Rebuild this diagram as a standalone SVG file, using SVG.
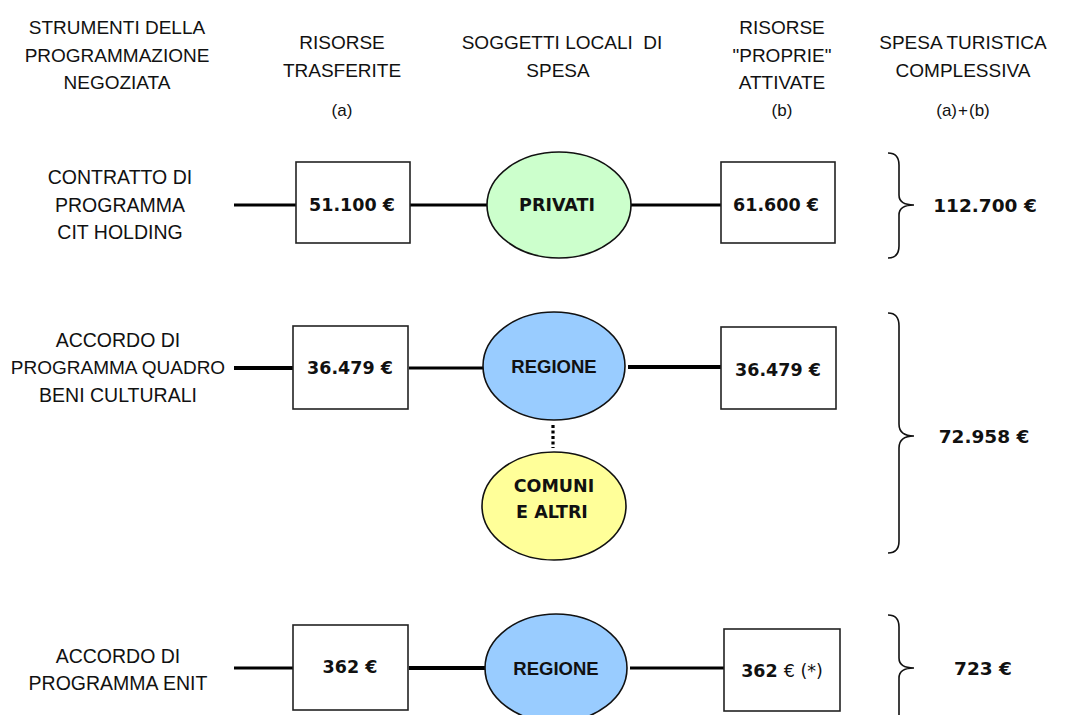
<svg xmlns="http://www.w3.org/2000/svg" width="1076" height="715" viewBox="0 0 1076 715">
  <style>
    .hd { font-family: "Liberation Sans", Arial, sans-serif; font-size: 19px; fill: #111; text-anchor: middle; }
    .sm { font-family: "Liberation Sans", Arial, sans-serif; font-size: 17px; fill: #111; text-anchor: middle; }
    .lbl { font-family: "Liberation Sans", Arial, sans-serif; font-size: 19.5px; fill: #111; text-anchor: middle; }
    .val { font-family: "DejaVu Sans", Verdana, sans-serif; font-size: 17.5px; font-weight: bold; fill: #111; text-anchor: middle; }
    .tot { font-family: "DejaVu Sans", Verdana, sans-serif; font-size: 18.5px; font-weight: bold; fill: #111; text-anchor: middle; }
    .ell { font-family: "Liberation Sans", Arial, sans-serif; font-size: 18.5px; font-weight: bold; fill: #111; text-anchor: middle; }
    .ellw { font-family: "DejaVu Sans", Verdana, sans-serif; font-size: 17.5px; font-weight: bold; fill: #111; text-anchor: middle; }
    .box { fill: #fff; stroke: #222; stroke-width: 1.6; }
    .node { stroke: #111; stroke-width: 1.6; }
    .link { stroke: #000; stroke-width: 3.2; fill: none; }
    .brace { stroke: #111; stroke-width: 1.6; fill: none; }
  </style>

  <!-- column headings -->
  <g id="headings">
    <text class="hd" x="117" y="34">STRUMENTI DELLA</text>
    <text class="hd" x="117" y="62">PROGRAMMAZIONE</text>
    <text class="hd" x="117" y="89">NEGOZIATA</text>

    <text class="hd" x="342" y="49">RISORSE</text>
    <text class="hd" x="342" y="77">TRASFERITE</text>
    <text class="sm" x="342" y="116">(a)</text>

    <text class="hd" x="562" y="49" style="white-space:pre">SOGGETTI LOCALI  DI</text>
    <text class="hd" x="558" y="77">SPESA</text>

    <text class="hd" x="782" y="34">RISORSE</text>
    <text class="hd" x="782" y="62">"PROPRIE"</text>
    <text class="hd" x="782" y="89">ATTIVATE</text>
    <text class="sm" x="782" y="116">(b)</text>

    <text class="hd" x="963" y="49">SPESA TURISTICA</text>
    <text class="hd" x="963" y="77">COMPLESSIVA</text>
    <text class="sm" x="963" y="116">(a)<tspan dx="1">+</tspan><tspan dx="1">(b)</tspan></text>
  </g>

  <!-- connectors -->
  <g id="connectors">
    <line class="link" x1="234" y1="205" x2="296" y2="205"/>
    <line class="link" x1="410" y1="205" x2="487" y2="205"/>
    <line class="link" x1="631" y1="205" x2="721" y2="205"/>

    <line class="link" x1="234" y1="368" x2="293" y2="368" style="stroke-width:4"/>
    <line class="link" x1="409" y1="368" x2="484" y2="368"/>
    <line class="link" x1="628" y1="367" x2="721" y2="367" style="stroke-width:4"/>
    <line class="link" x1="553" y1="425" x2="553" y2="448" style="stroke-dasharray:3 2.5"/>

    <line class="link" x1="234" y1="668" x2="293" y2="668"/>
    <line class="link" x1="409" y1="668" x2="486" y2="668" style="stroke-width:4"/>
    <line class="link" x1="630" y1="668" x2="724" y2="668"/>
  </g>

  <!-- row 1: contratto di programma -->
  <g id="row1-label">
    <text class="lbl" x="120" y="184">CONTRATTO DI</text>
    <text class="lbl" x="120" y="212">PROGRAMMA</text>
    <text class="lbl" x="120" y="239">CIT HOLDING</text>
  </g>
  <g id="row1-transfer">
    <rect class="box" x="296" y="162" width="114" height="81"/>
    <text class="val" x="352" y="211">51.100 €</text>
  </g>
  <g id="row1-privati">
    <ellipse class="node" cx="559" cy="205" rx="72" ry="53" fill="#ccffcc"/>
    <text class="ellw" x="557" y="211">PRIVATI</text>
  </g>
  <g id="row1-own">
    <rect class="box" x="721" y="162" width="114" height="81"/>
    <text class="val" x="776" y="211">61.600 €</text>
  </g>
  <g id="row1-total">
    <path class="brace" d="M888,153 Q899,153 899,165 V195 Q899,205 914,205 Q899,205 899,215 V246 Q899,258 888,258"/>
    <text class="tot" x="985" y="212">112.700 €</text>
  </g>

  <!-- row 2: accordo di programma quadro -->
  <g id="row2-label">
    <text class="lbl" x="118" y="347">ACCORDO DI</text>
    <text class="lbl" x="118" y="374" style="font-size:19px">PROGRAMMA QUADRO</text>
    <text class="lbl" x="118" y="402">BENI CULTURALI</text>
  </g>
  <g id="row2-transfer">
    <rect class="box" x="293" y="326" width="115" height="83"/>
    <text class="val" x="350" y="374">36.479 €</text>
  </g>
  <g id="row2-regione">
    <ellipse class="node" cx="554" cy="366" rx="71" ry="54" fill="#99ccff"/>
    <text class="ell" x="554" y="373">REGIONE</text>
  </g>
  <g id="row2-comuni">
    <ellipse class="node" cx="554" cy="506" rx="72" ry="54" fill="#ffff99"/>
    <text class="ellw" x="554" y="492">COMUNI</text>
    <text class="ellw" x="552" y="518">E ALTRI</text>
  </g>
  <g id="row2-own">
    <rect class="box" x="721" y="327" width="115" height="82"/>
    <text class="val" x="778" y="376">36.479 €</text>
  </g>
  <g id="row2-total">
    <path class="brace" d="M888,313 Q899,313 899,326 V424 Q899,436 914,436 Q899,436 899,448 V541 Q899,553 888,553"/>
    <text class="tot" x="984" y="443">72.958 €</text>
  </g>

  <!-- row 3: accordo di programma ENIT -->
  <g id="row3-label">
    <text class="lbl" x="118" y="663">ACCORDO DI</text>
    <text class="lbl" x="118" y="690">PROGRAMMA ENIT</text>
  </g>
  <g id="row3-transfer">
    <rect class="box" x="293" y="625" width="115" height="85"/>
    <text class="val" x="350" y="673">362 €</text>
  </g>
  <g id="row3-regione">
    <ellipse class="node" cx="556" cy="668" rx="71" ry="54" fill="#99ccff"/>
    <text class="ell" x="556" y="675">REGIONE</text>
  </g>
  <g id="row3-own">
    <rect class="box" x="724" y="629" width="116" height="82"/>
    <text class="val" x="782" y="677">362 <tspan style="font-weight:normal">€ (*)</tspan></text>
  </g>
  <g id="row3-total">
    <path class="brace" d="M888,615 Q899,615 899,627 V658 Q899,668 914,668 Q899,668 899,678 V720"/>
    <text class="tot" x="983" y="675">723 €</text>
  </g>
</svg>
